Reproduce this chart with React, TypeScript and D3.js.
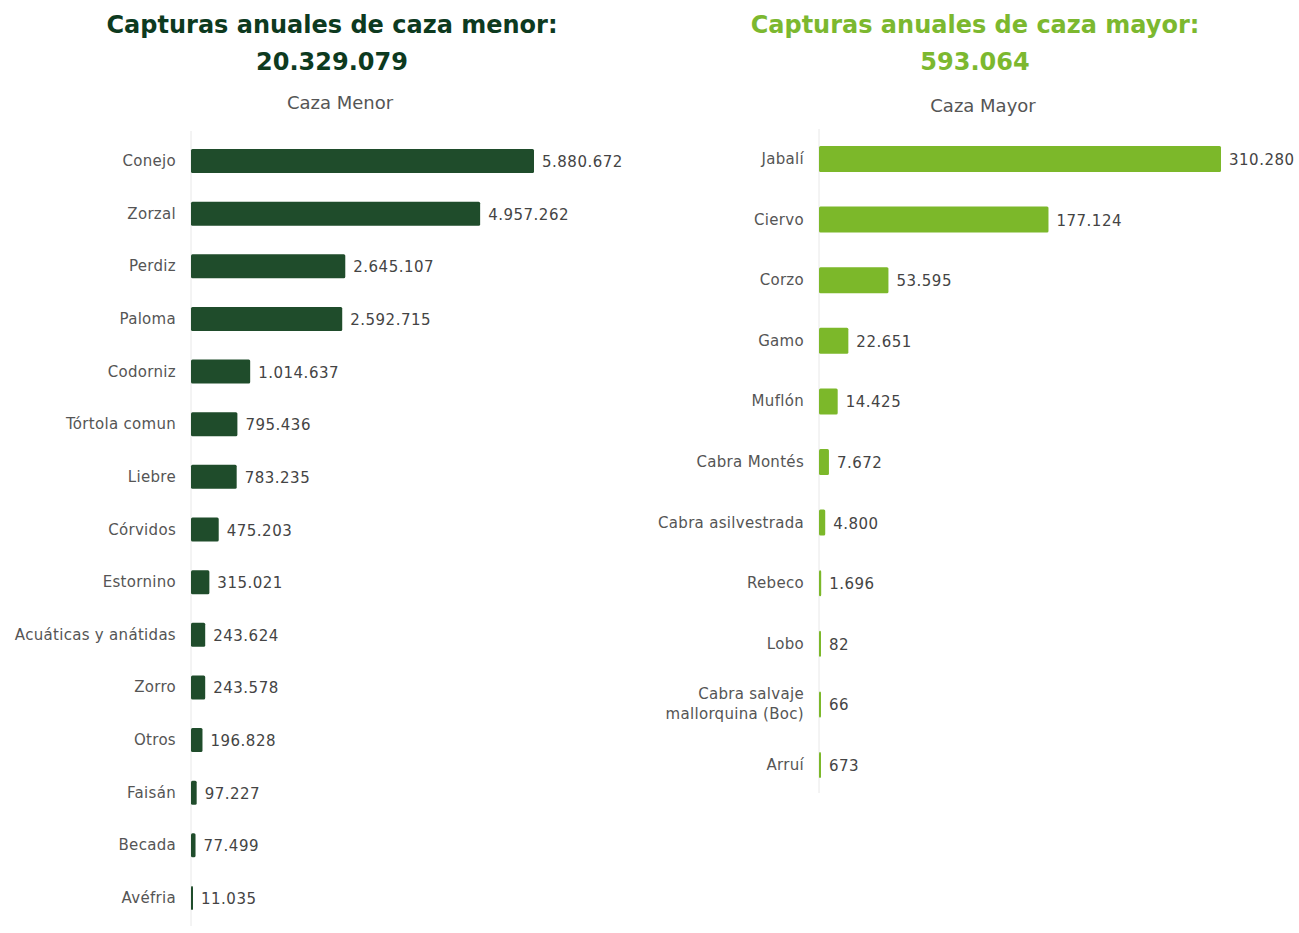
import * as d3 from "d3";

// caza menor
const menorCats = ["Conejo", "Zorzal", "Perdiz", "Paloma", "Codorniz", "Tórtola comun", "Liebre", "Córvidos", "Estornino", "Acuáticas y anátidas", "Zorro", "Otros", "Faisán", "Becada", "Avéfria"];
const menorVals = [5880672, 4957262, 2645107, 2592715, 1014637, 795436, 783235, 475203, 315021, 243624, 243578, 196828, 97227, 77499, 11035];
const menorTotal = "20.329.079";

// caza mayor
const mayorCats = ["Jabalí", "Ciervo", "Corzo", "Gamo", "Muflón", "Cabra Montés", "Cabra asilvestrada", "Rebeco", "Lobo", "Cabra salvaje\nmallorquina (Boc)", "Arruí"];
const mayorVals = [310280, 177124, 53595, 22651, 14425, 7672, 4800, 1696, 82, 66, 673];
const mayorTotal = "593.064";

const fmt = (v: number) => d3.format(",")(v).replace(/,/g, ".");

const labelFont = "'DejaVu Sans', Verdana, sans-serif";

type PanelProps = {
  cats: string[];
  vals: number[];
  title: string;
  total: string;
  sub: string;
  color: string;
  titleColor: string;
  cx: number;
  x0: number;
  x1: number;
  yTop: number;
  yBot: number;
  barH: number;
  subY: number;
};

function Panel(p: PanelProps) {
  const x = d3.scaleLinear().domain([0, d3.max(p.vals) as number]).range([p.x0, p.x1]);
  const y = d3.scalePoint<string>().domain(p.cats).range([p.yTop, p.yBot]);
  return (
    <g>
      <text x={p.cx} y={33} textAnchor="middle" fontFamily={labelFont} fontWeight="bold" fontSize={24} fill={p.titleColor}>{p.title}</text>
      <text x={p.cx} y={70} textAnchor="middle" fontFamily={labelFont} fontWeight="bold" fontSize={24} fill={p.titleColor}>{p.total}</text>
      <text x={p.cx + 8} y={p.subY} textAnchor="middle" fontFamily={labelFont} fontSize={18} fill="#555">{p.sub}</text>
      <line x1={p.x0} x2={p.x0} y1={p.yTop - 30} y2={p.yBot + 28} stroke="#e8e8e8" />
      {p.cats.map((c, i) => {
        const cy = y(c) as number;
        const w = Math.max(2, x(p.vals[i]) - p.x0);
        const lines = c.split("\n");
        return (
          <g key={c}>
            <rect x={p.x0} y={cy - p.barH / 2} width={w} height={p.barH} rx={1.5} fill={p.color} />
            <text x={p.x0 + w + 8} y={cy + 6} fontFamily={labelFont} fontSize={15} letterSpacing={0.5} fill="#444">{fmt(p.vals[i])}</text>
            {lines.map((l, j) => (
              <text key={j} x={p.x0 - 15} y={cy + 5 + (j - (lines.length - 1) / 2) * 20} textAnchor="end" fontFamily={labelFont} fontSize={15} letterSpacing={0.3} fill="#555">{l}</text>
            ))}
          </g>
        );
      })}
    </g>
  );
}

export default function App() {
  return (
    <svg width={1299} height={933} style={{ position: "absolute", left: 0, top: 0, background: "#fff" }}>
      <Panel cats={menorCats} vals={menorVals} title="Capturas anuales de caza menor:" total={menorTotal} sub="Caza Menor" color="#1f4c2b" titleColor="#0d3a1f" cx={332} x0={191} x1={534} yTop={161} yBot={898} barH={24} subY={109} />
      <Panel cats={mayorCats} vals={mayorVals} title="Capturas anuales de caza mayor:" total={mayorTotal} sub="Caza Mayor" color="#7cb82a" titleColor="#7cb82f" cx={975} x0={819} x1={1221} yTop={159} yBot={765} barH={26} subY={112} />
    </svg>
  );
}
